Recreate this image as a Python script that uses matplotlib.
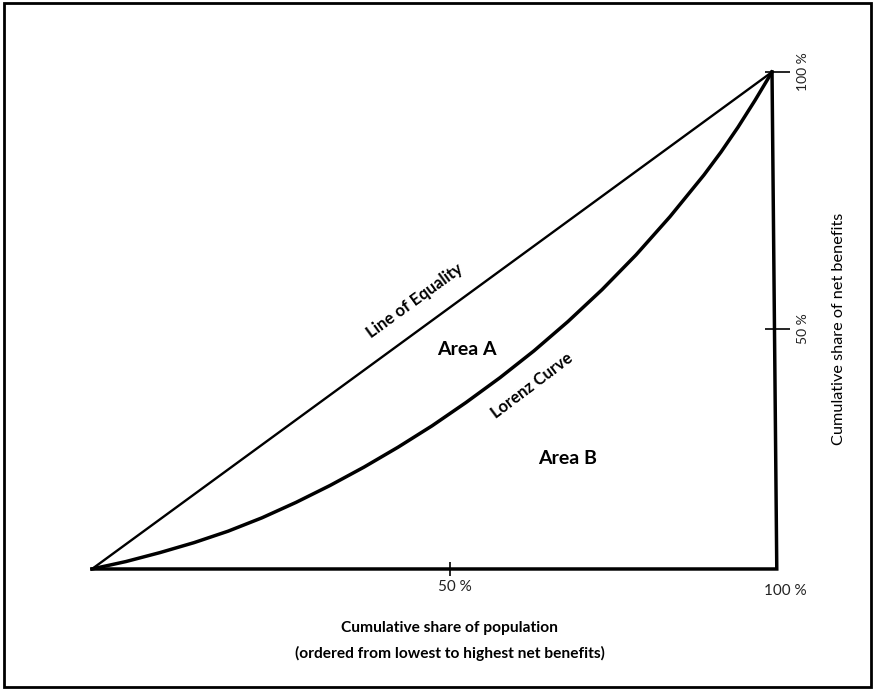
import numpy as np
import matplotlib
matplotlib.use("Agg")
import matplotlib.pyplot as plt
from matplotlib.patches import Rectangle

# cumulative share of population (%) and the Lorenz curve
pop_share = [0, 5, 10, 15, 20, 25, 30, 35, 40, 45, 50, 55, 60, 65, 70, 75, 80, 85,
             90, 92.5, 95, 97.5, 100]
lorenz = [0, 1.5, 3.3, 5.3, 7.6, 10.3, 13.4, 16.8, 20.5, 24.5, 28.8, 33.5, 38.5, 43.9,
          49.8, 56.2, 63.2, 70.9, 79.3, 83.9, 88.9, 94.3, 100]
equality_x = [0, 100]
equality_y = [0, 100]
# the hand-drawn frame: bottom edge ends a bit right of 100
frame_x = [0, 100.7, 100]
frame_y = [0, 0, 100]

x_ticks = [52.6]
x_tick_labels = ["50 %"]
y_ticks = [48.3, 100]
y_tick_labels = ["50 %", "100 %"]

plt.rcParams["font.family"] = ["Lato", "DejaVu Sans"]

fig = plt.figure(figsize=(8.73, 6.90), dpi=100)
ax = fig.add_axes([0, 0, 1, 1])
ax.set_xlim(-13.53, 114.85)
ax.set_ylim(-24.35, 114.49)
ax.axis("off")

ax.plot(equality_x, equality_y, color="black", lw=1.7, solid_capstyle="round")
ax.plot(pop_share, lorenz, color="black", lw=2.5, solid_joinstyle="round")
ax.plot(frame_x, frame_y, color="black", lw=2.5, solid_joinstyle="miter")

# ticks
ax.plot(x_ticks, [0] * len(x_ticks), ls="none", marker="|", ms=9.5, mew=1.2, color="black")
right_x = np.interp(y_ticks, frame_y[1:][::-1], frame_x[1:][::-1])
ax.plot(right_x, y_ticks, ls="none", marker="_", ms=18, mew=1.2, color="black")

for xt, lab in zip(x_ticks, x_tick_labels):
    ax.text(xt + 0.8, -3.6, lab, ha="center", va="center", fontsize=11, color="#222222")
ax.text(101.9, -4.4, "100 %", ha="center", va="center", fontsize=11, color="#222222")
for yt, lab in zip(y_ticks, y_tick_labels):
    ax.text(104.6, yt, lab, ha="center", va="center", rotation=90, fontsize=10, color="#222222")

ax.text(52.6, -11.9, "Cumulative share of population", ha="center", va="center",
        fontsize=11.2, fontweight="bold")
ax.text(52.6, -16.9, "(ordered from lowest to highest net benefits)", ha="center",
        va="center", fontsize=11.2, fontweight="bold")
ax.text(109.9, 48.3, "Cumulative share of net benefits", ha="center", va="center",
        rotation=90, fontsize=11.7)

ax.text(47.5, 53.9, "Line of Equality", ha="center", va="center", rotation=36,
        fontsize=12, fontweight="bold")
ax.text(64.7, 36.8, "Lorenz Curve", ha="center", va="center", rotation=37,
        fontsize=11.9, fontweight="bold")
ax.text(55.1, 44.1, "Area A", ha="center", va="center", fontsize=14, fontweight="bold")
ax.text(70.0, 22.3, "Area B", ha="center", va="center", fontsize=14, fontweight="bold")

fig.patches.append(Rectangle((4 / 873, 3 / 690), 867 / 873, 684 / 690, fill=False,
                             edgecolor="black", lw=2, transform=fig.transFigure))

fig.savefig("out.png", dpi=100)
